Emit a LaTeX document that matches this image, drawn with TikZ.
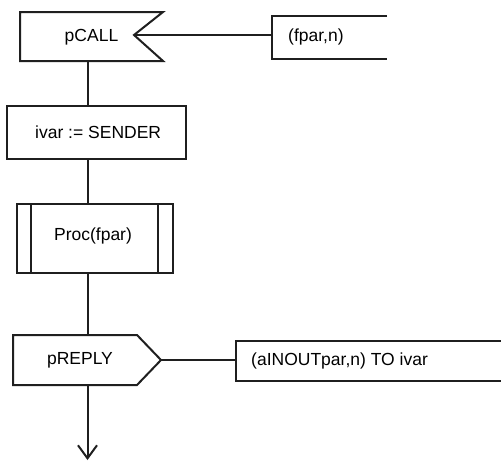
\documentclass[tikz,border=0pt]{standalone}
\usepackage{fontspec}
\setmainfont{Liberation Sans}
\usetikzlibrary{arrows.meta}
\begin{document}
\begin{tikzpicture}[x=1pt,y=-1pt,
  shape line/.style={draw=black!88,line width=2pt,line join=miter},
  conn/.style={draw=black!88,line width=2pt},
  lbl/.style={inner sep=0pt,font=\fontsize{17.5}{19}\selectfont}]
\useasboundingbox[fill=white] (0,0) rectangle (501,461);
% pCALL (input signal, notched)
\draw[shape line] (20,12) -- (163,12) -- (134,35) -- (163,61) -- (20,61) -- cycle;
\node[lbl] (call) at (91.5,37) {pCALL};
\coordinate (callnotch) at (134,35);
\coordinate (callbot) at (87.5,61);
% (fpar,n) comment
\draw[shape line] (387,16) -- (272,16) -- (272,59) -- (387,59);
\node[lbl,anchor=west] (fpar) at (288,37) {(fpar,n)};
\coordinate (fparleft) at (272,35);
% ivar := SENDER task
\node[shape line,minimum width=179pt,minimum height=53pt,inner sep=0pt] (task) at (96.5,132.5) {};
\node[lbl,anchor=west] (tasktext) at (35,132.5) {ivar := SENDER};
% Proc(fpar) procedure call
\node[shape line,minimum width=156pt,minimum height=69pt,inner sep=0pt] (proc) at (95,238.5) {};
\node[lbl] (proctext) at (93,236) {Proc(fpar)};
\draw[shape line] (31,204) -- (31,273) (158,204) -- (158,273);
% pREPLY output signal
\draw[shape line] (13,335) -- (137,335) -- (161,360) -- (137,385) -- (13,385) -- cycle;
\node[lbl] (reply) at (80,360) {pREPLY};
\coordinate (replytip) at (161,360);
\coordinate (replytop) at (87.5,335);
\coordinate (replybot) at (87.5,385);
% output comment
\draw[shape line] (503,341) -- (236,341) -- (236,381) -- (503,381);
\node[lbl,anchor=west] (out) at (251,361) {(aINOUTpar,n) TO ivar};
\coordinate (outleft) at (236,360);
\coordinate (end) at (87.5,460);
% connectors
\draw[conn] (fparleft) -- (callnotch);
\draw[conn] (callbot) -- (task.north -| callbot);
\draw[conn] (task.south -| callbot) -- (proc.north -| callbot);
\draw[conn] (proc.south -| callbot) -- (replytop);
\draw[conn] (replytip) -- (outleft);
\draw[conn,-{Straight Barb[length=13pt,width=19pt,line width=2pt]}] (replybot) -- (end);
\end{tikzpicture}
\end{document}
